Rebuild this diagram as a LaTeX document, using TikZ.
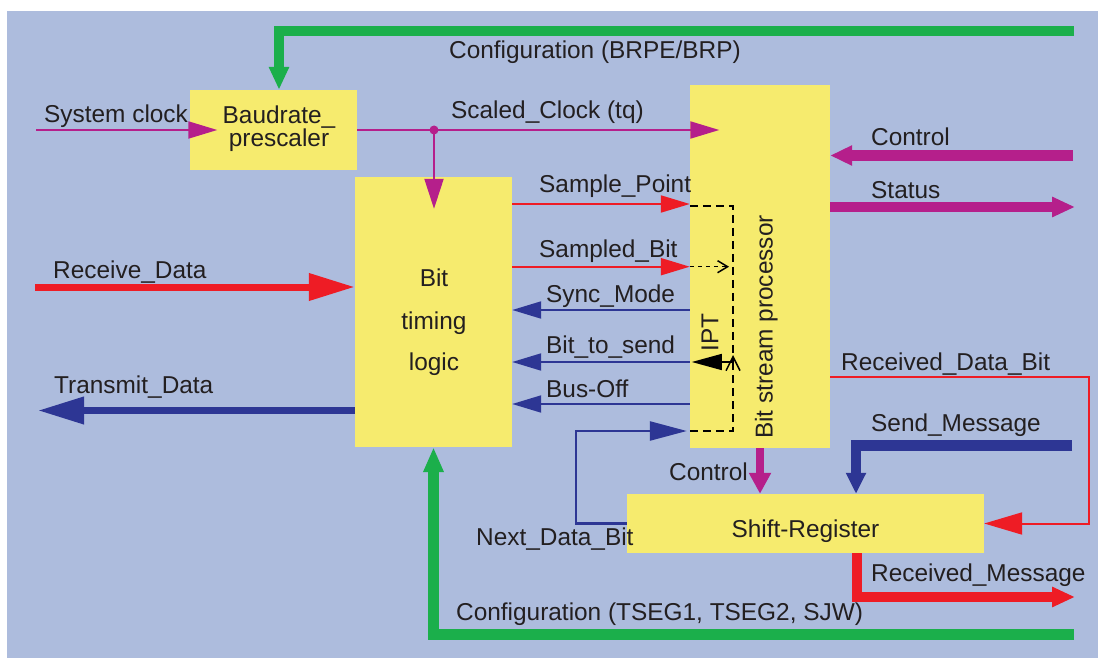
\documentclass[tikz,border=0pt]{standalone}
\usepackage{fontspec}
\setmainfont{Liberation Sans}
\usetikzlibrary{arrows.meta,calc}
\definecolor{bgc}{HTML}{ADBCDD}
\definecolor{boxc}{HTML}{F6EB6E}
\definecolor{grn}{HTML}{1BAF4B}
\definecolor{mag}{HTML}{B51F8B}
\definecolor{redc}{HTML}{EE1C25}
\definecolor{blu}{HTML}{2D3694}
\definecolor{txt}{HTML}{231F20}
\tikzset{
  blk/.style={fill=boxc, draw=none, inner sep=0pt},
  lbl/.style={anchor=base west, inner sep=0pt, text=txt, font=\fontsize{24.4}{28}\selectfont},
  ctr/.style={anchor=base, inner sep=0pt, text=txt, font=\fontsize{24.4}{28}\selectfont},
  rot/.style={anchor=base, rotate=90, inner sep=0pt, text=txt, font=\fontsize{24.4}{28}\selectfont},
  thinsig/.style={line width=2pt},
  tipS/.style={-{Triangle[length=29pt,width=17pt]}},
  dsh/.style={draw=black, line width=1.5pt, dash pattern=on 8pt off 5pt},
  dshs/.style={draw=black, line width=1.5pt, dash pattern=on 4pt off 4pt},
}
\begin{document}
\begin{tikzpicture}[x=1pt,y=-1pt]
\useasboundingbox (0,0) rectangle (1098,658);
\fill[bgc] (7,11) rectangle (1098,658);

% blocks
\node[blk, minimum width=167pt, minimum height=80pt] (baud) at (273.5,130) {};
\node[blk, minimum width=157pt, minimum height=270pt] (btl) at (433.5,312) {};
\node[blk, minimum width=140pt, minimum height=363pt] (bsp) at (760,266.5) {};
\node[blk, minimum width=357pt, minimum height=59pt] (sr) at (805.5,523.5) {};

% free ends
\coordinate (gtop) at (1074,31);
\coordinate (gbot) at (1074,634);
\coordinate (sysin) at (36,130);
\coordinate (rxin) at (35,287);
\coordinate (txout) at (38,410.5);
\coordinate (ctlin) at (1073,155.5);
\coordinate (stout) at (1075,207);
\coordinate (rdbc) at (1089,377);
\coordinate (smin) at (1072,445.5);
\coordinate (rmout) at (1075,597);
\coordinate (ndb) at (576,431);
\coordinate (dtr) at (733,206);
\coordinate (dbr) at (733,431);
\coordinate (ipt) at (733,362);
\coordinate (iptup) at (733,355);

% green configuration buses
\draw[grn, line width=10pt, -{Triangle[length=23pt,width=19pt]}] (gtop) -| ([xshift=5.5pt]baud.north);
\draw[grn, line width=11pt, -{Triangle[length=25pt,width=19pt]}] (gbot) -| (btl.south);

% clocks
\draw[mag, thinsig, tipS] (sysin) -- ([xshift=27.5pt]baud.west);
\draw[mag, thinsig, tipS] (baud.east) -- ($(bsp.west |- baud.east)+(29.5,0)$);
\node[circle, fill=mag, inner sep=0pt, minimum size=9pt] (dot) at (434,130) {};
\draw[mag, thinsig, -{Triangle[length=30pt,width=19pt]}] (dot.center) -- ($(dot.center |- btl.north)+(0,32)$);

% between bit timing and bit stream processor
\draw[redc, thinsig, tipS] (btl.east |- 0,204) -- (bsp.west |- 0,204);
\draw[redc, thinsig, tipS] (btl.east |- 0,266.7) -- (bsp.west |- 0,266.7);
\draw[blu, thinsig, tipS] (bsp.west |- 0,310) -- (btl.east |- 0,310);
\draw[blu, thinsig, tipS] (bsp.west |- 0,362) -- (btl.east |- 0,362);
\draw[blu, thinsig, tipS] (bsp.west |- 0,404) -- (btl.east |- 0,404);

% receive / transmit
\draw[redc, line width=7pt, -{Triangle[length=46pt,width=26pt]}] (rxin) -- (btl.west |- rxin);
\draw[blu, line width=7pt, -{Triangle[length=46pt,width=26pt]}] (btl.west |- txout) -- (txout);

% right side
\draw[mag, line width=11pt, -{Triangle[length=22pt,width=19pt]}] (ctlin) -- (bsp.east |- ctlin);
\draw[mag, line width=10pt, -{Triangle[length=23pt,width=19pt]}] (bsp.east |- stout) -- (stout);
\draw[redc, thinsig, -{Triangle[length=38pt,width=22pt]}] (bsp.east |- rdbc) -- (rdbc) |- (sr.east);
\draw[blu, line width=10.5pt, -{Triangle[length=21pt,width=19pt]}] (smin) -| ([xshift=50.5pt]sr.north);
\draw[mag, line width=8pt, -{Triangle[length=21pt,width=21pt]}] (bsp.south) -- (bsp.south |- sr.north);
\draw[redc, line width=10pt, -{Triangle[length=23pt,width=19pt]}] ([xshift=51pt]sr.south) |- (rmout);
\draw[blu, line width=2.5pt, -{Triangle[length=37pt,width=19pt]}] (sr.west) -| (ndb) -- ($(bsp.west |- ndb)+(-3,0)$);

% inside bit stream processor
\draw[dsh] (bsp.west |- dtr) -- (dtr) -- (ipt);
\draw[dsh, -{Straight Barb[length=14pt,width=14pt]}] (bsp.west |- dbr) -- (dbr) -- (iptup);
\draw[dshs, -{Straight Barb[length=10pt,width=12pt]}] (bsp.west |- 0,266.7) -- (729,266.7);
\draw[black, line width=1.5pt, -{Triangle[length=30pt,width=16pt]}] (ipt) -- ($(bsp.west |- ipt)+(2,0)$);

% texts
\node[lbl] (tcfg1) at (449,59) {Configuration (BRPE/BRP)};
\node[lbl] (tsys) at (44,123) {System clock};
\node[lbl] (tscl) at (451,118.5) {Scaled\_Clock (tq)};
\node[ctr] (tbaud1) at (279,124) {Baudrate\_};
\node[ctr] (tbaud2) at (279,147) {prescaler};
\node[lbl] (tsp) at (539,193) {Sample\_Point};
\node[lbl] (tsb) at (539,257) {Sampled\_Bit};
\node[lbl] (tsm) at (546,302) {Sync\_Mode};
\node[lbl] (tbs) at (546,353) {Bit\_to\_send};
\node[lbl] (tbo) at (546,397) {Bus-Off};
\node[lbl] (trx) at (53,278.5) {Receive\_Data};
\node[lbl] (ttx) at (54,393.3) {Transmit\_Data};
\node[ctr] (tbit) at (434,286.7) {Bit};
\node[ctr] (ttim) at (434,329.5) {timing};
\node[ctr] (tlog) at (434,370) {logic};
\node[lbl] (tctl) at (871,145.5) {Control};
\node[lbl] (tst) at (871,198.3) {Status};
\node[lbl] (trdb) at (841,370) {Received\_Data\_Bit};
\node[lbl] (tsmsg) at (871,431.7) {Send\_Message};
\node[lbl] (tctl2) at (669,480) {Control};
\node[ctr] (tsr) at (805.4,537.7) {Shift-Register};
\node[lbl] (tndb) at (476,545) {Next\_Data\_Bit};
\node[lbl] (trm) at (871,581.7) {Received\_Message};
\node[lbl] (tcfg2) at (456,620) {Configuration (TSEG1, TSEG2, SJW)};
\node[rot] (tipt) at (718.4,332.5) {IPT};
\node[rot] (tbsp) at (772.5,327) {Bit stream processor};
\end{tikzpicture}
\end{document}
